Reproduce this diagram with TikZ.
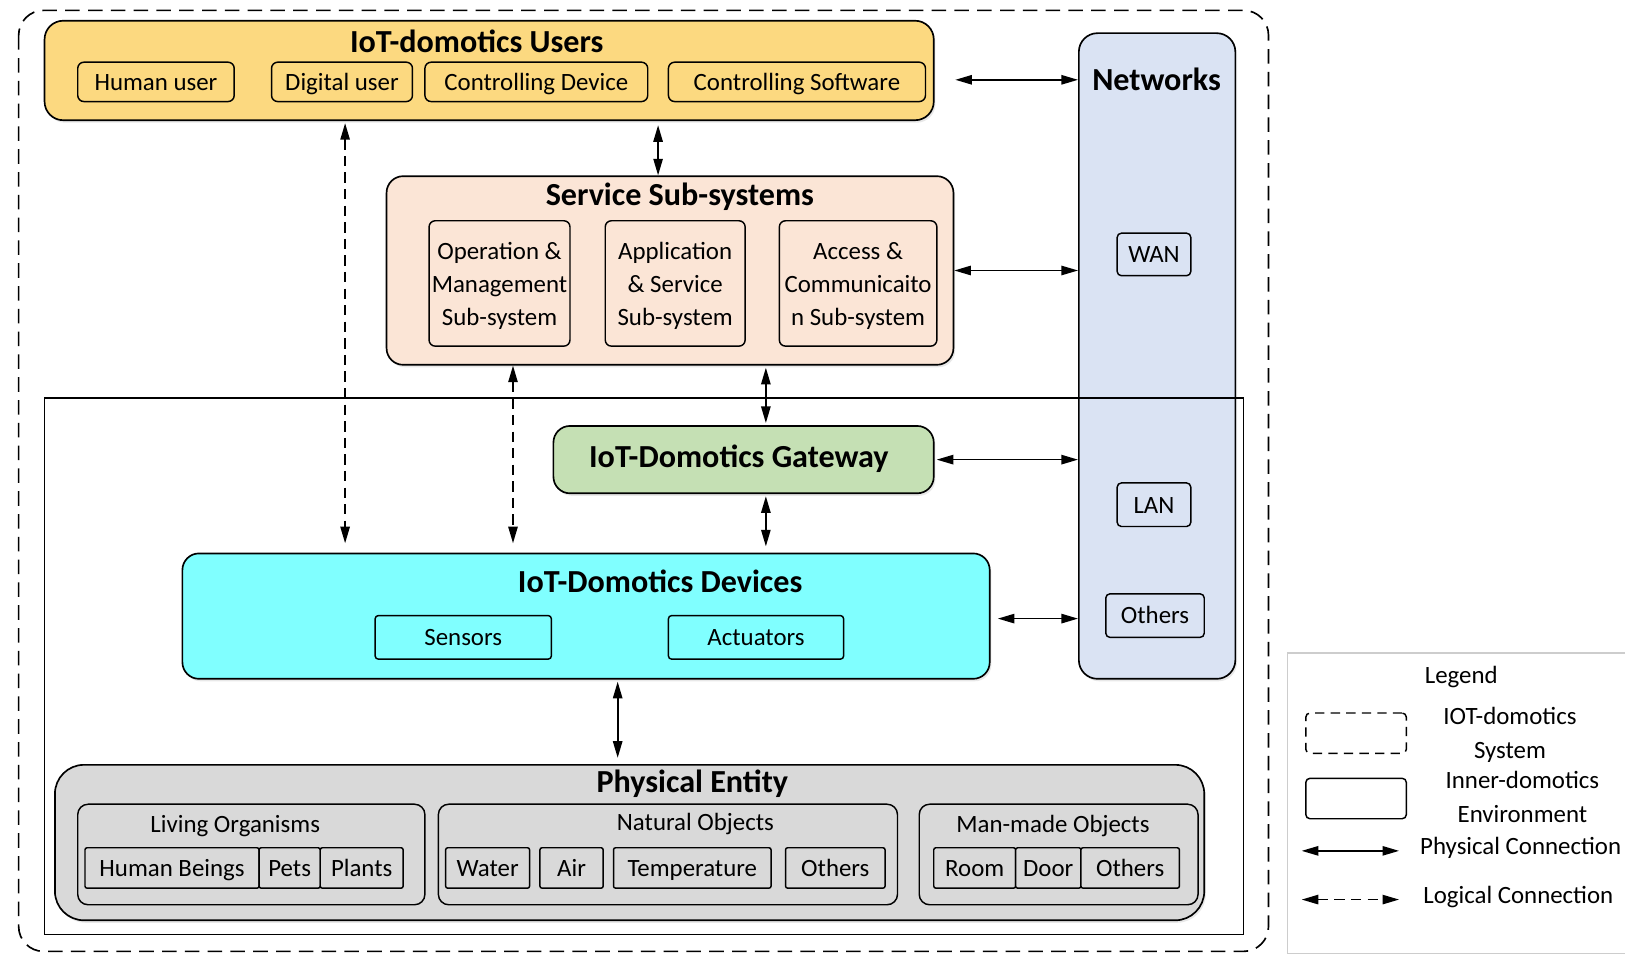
\documentclass[tikz,border=0pt]{standalone}
\usepackage{fontspec}
\setmainfont{Carlito}
\usetikzlibrary{arrows.meta,fit,shadows}

\definecolor{userfill}{RGB}{252,217,128}
\definecolor{servfill}{RGB}{251,229,214}
\definecolor{netfill}{RGB}{218,227,243}
\definecolor{gatefill}{RGB}{197,224,180}
\definecolor{devfill}{RGB}{128,255,255}
\definecolor{physfill}{RGB}{217,217,217}
\definecolor{legendgray}{RGB}{205,205,205}

\tikzset{
  block/.style={draw, line width=0.8pt, inner sep=0pt, rounded corners=8pt,
    drop shadow={opacity=0.18, shadow xshift=0.8pt, shadow yshift=-1.2pt}},
  item/.style={draw, line width=0.7pt, inner sep=0pt, rounded corners=3pt},
  heading/.style={font=\fontsize{15.5}{18}\selectfont\bfseries, inner sep=0pt},
  plaintext/.style={font=\fontsize{12}{16}\selectfont, inner sep=0pt, align=center},
  every label/.style={plaintext, text height=10pt, text depth=2pt},
  threelines/.style={text height=, text depth=, yshift=-1.3pt},
  phys/.style={line width=0.8pt,
    {Triangle[length=8pt,width=4.5pt]}-{Triangle[length=8pt,width=4.5pt]}},
  logic/.style={phys, dash pattern=on 5pt off 3pt},
}

\begin{document}
\begin{tikzpicture}[x=0.5pt,y=-0.5pt]

    \def\outerframe{(18,10) rectangle (1224,918)}
    \def\innerframe{(43,384) rectangle (1200,902)}
    \useasboundingbox (0,0) rectangle (1568,922);

    %draw IoT-domotics system:
    \draw[line width=0.8pt, dash pattern=on 7pt off 4pt, rounded corners=12pt] \outerframe;

    %users:
    \node[block, fill=userfill, rounded corners=9pt, fit={(43,20) (901,116)}] (users) {};
    \node[heading] (users-title) at (460,40) {IoT-domotics Users};
    \node[item, fill=userfill, fit={(75,60) (226,98)}, label=center:Human user] (human) {};
    \node[item, fill=userfill, fit={(262,60) (398,98)}, label=center:Digital user] (digital) {};
    \node[item, fill=userfill, fit={(410,60) (625,98)}, label=center:Controlling Device] (ctrl-dev) {};
    \node[item, fill=userfill, fit={(645,60) (893,98)}, label=center:Controlling Software] (ctrl-soft) {};

    %networks:
    \node[block, fill=netfill, rounded corners=9pt, fit={(1041,32) (1192,655)}] (networks) {};
    \node[heading] (net-title) at (1116,77) {Networks};
    \node[item, fill=netfill, rounded corners=2pt, fit={(1078,225) (1149,266)}, label=center:WAN] (wan) {};
    \node[item, fill=netfill, rounded corners=2pt, fit={(1078,466) (1149,508)}, label=center:LAN] (lan) {};
    \node[item, fill=netfill, rounded corners=2pt, fit={(1067,573) (1162,615)}, label=center:Others] (net-others) {};

    %service sub-systems:
    \node[block, fill=servfill, fit={(373,170) (920,352)}] (service) {};
    \node[heading] (serv-title) at (656,190) {Service Sub-systems};
    \node[item, fill=servfill, fit={(414,213) (550,334)}, label={[threelines]center:Operation \&\\Management\\Sub-system}] (opmgmt) {};
    \node[item, fill=servfill, fit={(584,213) (719,334)}, label={[threelines]center:Application\\\& Service\\Sub-system}] (appserv) {};
    \node[item, fill=servfill, fit={(752,213) (904,334)}, label={[threelines]center:Access \&\\Communicaito\\n Sub-system}] (access) {};

    %gateway and devices:
    \node[block, fill=gatefill, fit={(534,411) (901,476)}] (gateway) {};
    \node[heading] (gate-title) at (713,443) {IoT-Domotics Gateway};
    \node[block, fill=devfill, fit={(176,534) (955,655)}] (devices) {};
    \node[heading] (dev-title) at (637,561) {IoT-Domotics Devices};
    \node[item, fill=devfill, rounded corners=1.5pt, fit={(362,594) (532,636)}, label=center:Sensors] (sensors) {};
    \node[item, fill=devfill, rounded corners=1.5pt, fit={(645,594) (814,636)}, label=center:Actuators] (actuators) {};

    %physical entity:
    \node[block, fill=physfill, rounded corners=14pt, fit={(53,738) (1162,888)}] (physical) {};
    \node[heading] (phys-title) at (668,756) {Physical Entity};
    \node[item, fill=physfill, rounded corners=5pt, fit={(75,776) (410,873)}] (living) {};
    \node[plaintext] (living-title) at (227,797) {Living Organisms};
    \node[item, fill=physfill, rounded corners=1pt, fit={(82,818) (250,857)}, label=center:Human Beings] (humans) {};
    \node[item, fill=physfill, rounded corners=1pt, fit={(250,818) (309,857)}, label=center:Pets] (pets) {};
    \node[item, fill=physfill, rounded corners=1pt, fit={(309,818) (389,857)}, label=center:Plants] (plants) {};
    \node[item, fill=physfill, rounded corners=5pt, fit={(423,776) (866,873)}] (natural) {};
    \node[plaintext] (natural-title) at (671,795) {Natural Objects};
    \node[item, fill=physfill, rounded corners=1pt, fit={(430,818) (511,857)}, label=center:Water] (water) {};
    \node[item, fill=physfill, rounded corners=1pt, fit={(521,818) (582,857)}, label=center:Air] (air) {};
    \node[item, fill=physfill, rounded corners=1pt, fit={(592,818) (744,857)}, label=center:Temperature] (temp) {};
    \node[item, fill=physfill, rounded corners=1pt, fit={(758,818) (854,857)}, label=center:Others] (nat-others) {};
    \node[item, fill=physfill, rounded corners=5pt, fit={(887,776) (1156,873)}] (manmade) {};
    \node[plaintext] (manmade-title) at (1016,797) {Man-made Objects};
    \node[item, fill=physfill, rounded corners=1pt, fit={(901,818) (980,857)}, label=center:Room] (room) {};
    \node[item, fill=physfill, rounded corners=1pt, fit={(980,818) (1043,857)}, label=center:Door] (door) {};
    \node[item, fill=physfill, rounded corners=1pt, fit={(1043,818) (1138,857)}, label=center:Others] (man-others) {};

    %draw inner-domotics environment:
    \draw[line width=0.6pt] \innerframe;

    %connections:
    \draw[phys, shorten <=10pt] (users.east |- net-title) -- (net-title -| networks.west);
    \draw[phys] (service.east) -- (service.east -| networks.west);
    \draw[phys, shorten <=1pt] (gateway.east) -- (gateway.east -| networks.west);
    \draw[phys, shorten <=3.5pt] ([yshift=-1.2pt]devices.east) -- ([yshift=-1.2pt]devices.east -| networks.west);
    \draw[logic, shorten <=1pt, shorten >=4.5pt] ([xshift=1.5pt]digital.south |- users.south) -- ([xshift=1.5pt]digital.south |- devices.north);
    \draw[phys, shorten <=2pt] ([xshift=-5.75pt]service.north |- users.south) -- ([xshift=-5.75pt]service.north);
    \draw[logic, shorten >=4.5pt] ([xshift=6.5pt]opmgmt.south |- service.south) -- ([xshift=6.5pt]opmgmt.south |- devices.north);
    \draw[phys, shorten <=1pt, shorten >=1pt] ([xshift=10.75pt]gateway.north |- service.south) -- ([xshift=10.75pt]gateway.north);
    \draw[phys, shorten <=1pt, shorten >=3pt] ([xshift=10.75pt]gateway.south) -- ([xshift=10.75pt]gateway.south |- devices.north);
    \draw[phys, shorten <=1pt, shorten >=3pt] ([xshift=15.25pt]devices.south) -- ([xshift=15.25pt]devices.south |- physical.north);

    %legend:
    \node[draw=legendgray, line width=0.6pt, inner sep=0pt, fit={(1242,630) (1590,920)}] (legend) {};
    \node[plaintext] (legend-title) at (1410,653) {Legend};
    \node[draw, line width=0.7pt, dash pattern=on 4.5pt off 3pt, rounded corners=2pt, inner sep=0pt, fit={(1260,688) (1357,727)}] (leg-sys) {};
    \node[plaintext] (leg-sys-text) at (1457,709) {IOT-domotics\\System};
    \node[draw, line width=0.7pt, rounded corners=2pt, inner sep=0pt, fit={(1260,751) (1357,790)}] (leg-env) {};
    \node[plaintext] (leg-env-text) at (1469,769) {Inner-domotics\\Environment};
    \coordinate (leg-p1) at (1256,821);
    \coordinate (leg-p2) at (1350,821);
    \draw[phys] (leg-p1) -- (leg-p2);
    \node[plaintext, anchor=west] (leg-phys-text) at (1370,818) {Physical Connection};
    \coordinate (leg-l1) at (1256,868);
    \coordinate (leg-l2) at (1350,868);
    \draw[logic] (leg-l1) -- (leg-l2);
    \node[plaintext, anchor=west] (leg-logic-text) at (1373,866) {Logical Connection};

\end{tikzpicture}
\end{document}
